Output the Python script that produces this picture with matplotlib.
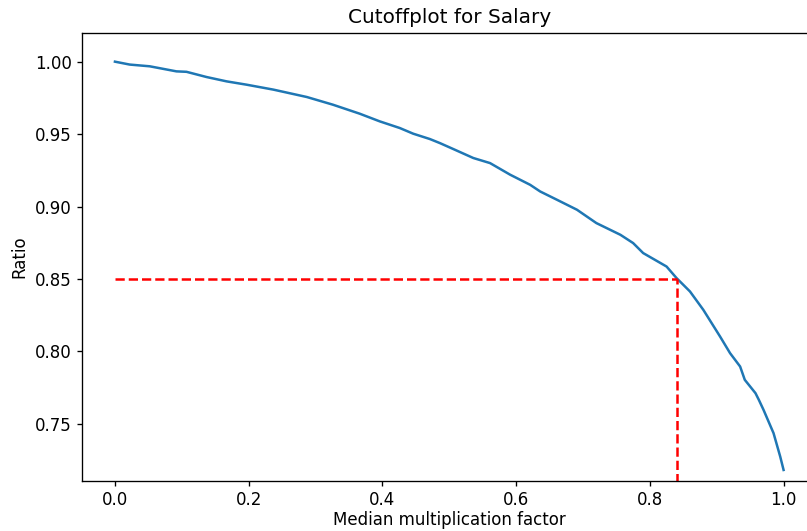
import matplotlib
matplotlib.use("Agg")
import matplotlib.pyplot as plt

# ratio kept vs. median multiplication factor
factor = [0.0, 0.022, 0.052, 0.092, 0.107, 0.137, 0.167, 0.197, 0.237, 0.287,
          0.326, 0.366, 0.396, 0.426, 0.446, 0.471, 0.486, 0.506, 0.536, 0.561,
          0.591, 0.621, 0.636, 0.661, 0.691, 0.720, 0.756, 0.775, 0.790, 0.825,
          0.840, 0.860, 0.880, 0.905, 0.920, 0.935, 0.942, 0.958, 0.963, 0.970,
          0.985, 0.995, 1.0]
ratio = [1.0, 0.998, 0.9968, 0.9933, 0.993, 0.9894, 0.9864, 0.9841, 0.9807, 0.9756,
         0.9703, 0.9641, 0.9588, 0.9542, 0.9503, 0.9466, 0.9438, 0.9397, 0.9335, 0.930,
         0.922, 0.915, 0.9104, 0.9047, 0.8978, 0.8886, 0.8805, 0.8748, 0.8679, 0.8586,
         0.8506, 0.8414, 0.8287, 0.8103, 0.7988, 0.7896, 0.7804, 0.7712, 0.7666, 0.7597,
         0.7436, 0.7274, 0.7182]

cutoff_ratio = 0.85
cutoff_factor = 0.84

plt.rcParams.update({
    "xtick.major.size": 3,
    "ytick.major.size": 3,
    "xtick.major.pad": 3,
    "ytick.major.pad": 3,
})

fig = plt.figure(figsize=(807 / 120, 531 / 120), dpi=120)
ax = fig.add_axes([0.101, 0.0942, 0.9114, 0.8437])

ax.plot(factor, ratio, color="#1f77b4", linewidth=1.5)
ax.hlines(cutoff_ratio, 0, cutoff_factor, colors="red", linestyles="--", linewidth=1.5)
ax.vlines(cutoff_factor, 0.70, cutoff_ratio, colors="red", linestyles="--", linewidth=1.5)

ax.set_xlim(-0.05, 1.05)
ax.set_ylim(0.7106, 1.0198)
ax.set_title("Cutoffplot for Salary")
ax.set_xlabel("Median multiplication factor", labelpad=1.5)
ax.set_ylabel("Ratio")

fig.savefig("out.png", dpi=120)
